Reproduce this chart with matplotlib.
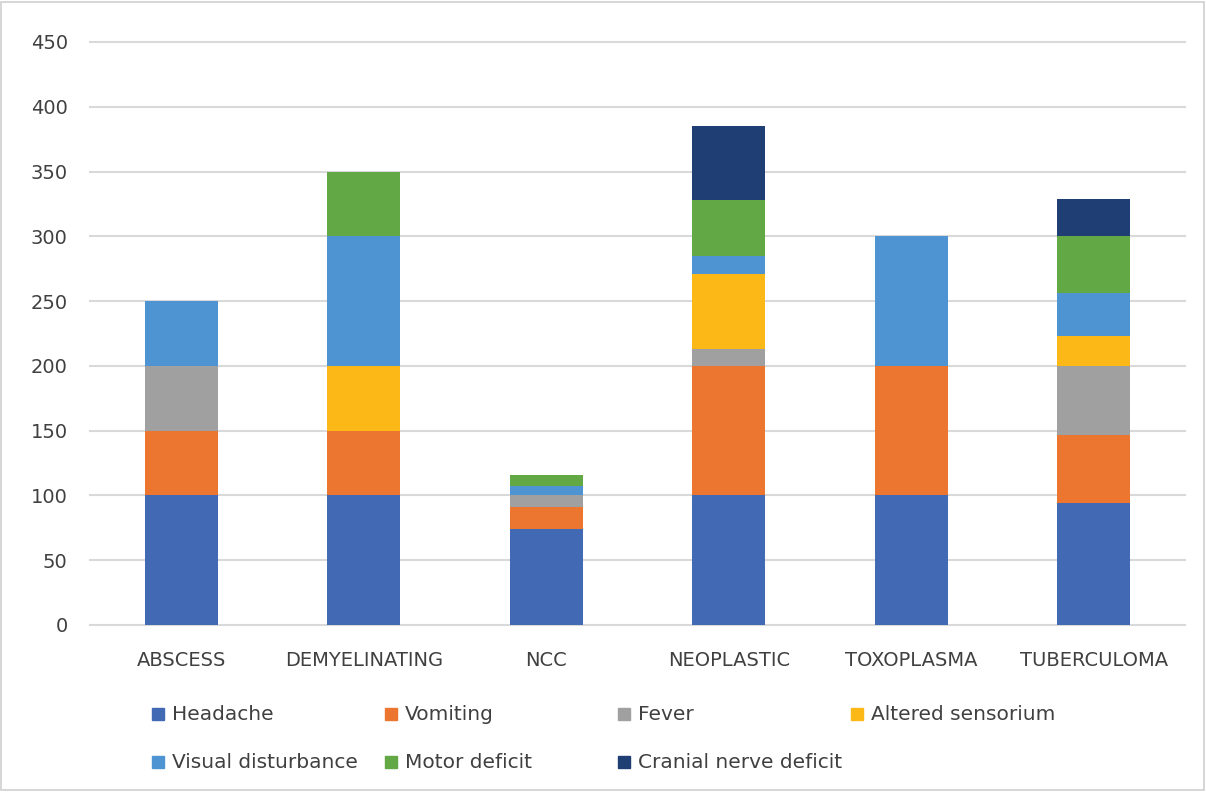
import matplotlib.pyplot as plt
from matplotlib.patches import Rectangle
import numpy as np

categories = ['ABSCESS', 'DEMYELINATING', 'NCC', 'NEOPLASTIC', 'TOXOPLASMA', 'TUBERCULOMA']
series_names = ['Headache', 'Vomiting', 'Fever', 'Altered sensorium',
                'Visual disturbance', 'Motor deficit', 'Cranial nerve deficit']
headache = [100, 100, 74, 100, 100, 94]
vomiting = [50, 50, 17, 100, 100, 53]
fever = [50, 0, 9, 13, 0, 53]
altered = [0, 50, 0, 58, 0, 23]
visual = [50, 100, 7, 14, 100, 33]
motor = [0, 50, 9, 43, 0, 44]
cranial = [0, 0, 0, 57, 0, 29]
colors = ['#4169B4', '#EC7530', '#A0A0A0', '#FBB817',
          '#4F94D2', '#62A845', '#1F3E74']

series = [headache, vomiting, fever, altered, visual, motor, cranial]

fig = plt.figure(figsize=(12.06, 7.92), dpi=100)
ax = fig.add_axes([0.0746, 0.2109, 0.9080, 0.7361])

x = np.arange(len(categories))
bottom = np.zeros(len(categories))
for vals, col in zip(series, colors):
    ax.bar(x, vals, width=0.4, bottom=bottom, color=col, linewidth=0, zorder=3)
    bottom += np.array(vals)

ax.set_xlim(-0.5, len(categories) - 0.5)
ax.set_ylim(0, 450)
ax.set_yticks(np.arange(0, 451, 50))
ax.set_xticks(x)
ax.set_xticklabels(categories)
ax.grid(axis='y', color='#D9D9D9', linewidth=1.5, zorder=0)
for gl in ax.yaxis.get_gridlines():
    gl.set_clip_on(False)
ax.tick_params(axis='both', length=0, labelsize=14, labelcolor='#404040')
ax.tick_params(axis='x', pad=19)
ax.tick_params(axis='y', pad=16)
for s in ax.spines.values():
    s.set_visible(False)

# legend placed by hand, 4 columns
W, H = 1206.0, 792.0
col_x = [152, 385, 618, 851]
row_y = [714, 762]
for i, (name, col) in enumerate(zip(series_names, colors)):
    cx = col_x[i % 4]
    cy = row_y[i // 4]
    fig.patches.append(Rectangle((cx / W, 1 - (cy + 6) / H), 12 / W, 12 / H,
                                 transform=fig.transFigure, color=col))
    fig.text((cx + 20) / W, 1 - cy / H, name, fontsize=14.5, color='#404040',
             va='center', ha='left')

# outer border
fig.patches.append(Rectangle((0.001, 0.002), 0.997, 0.995, transform=fig.transFigure,
                             fill=False, edgecolor='#D0D0D0', linewidth=1.2))

fig.savefig('out.png', dpi=100)
